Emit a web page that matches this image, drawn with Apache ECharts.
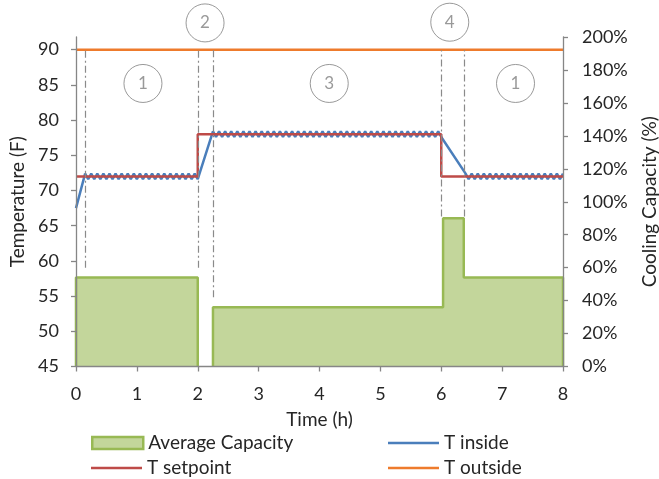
<!DOCTYPE html>
<html>
<head>
<meta charset="utf-8">
<script src="https://cdn.jsdelivr.net/npm/echarts@6/dist/echarts.min.js"></script>
<style>
  html, body { margin: 0; padding: 0; background: #fff; }
  #chart { width: 659px; height: 479px; }
</style>
</head>
<body>
<div id="chart"></div>
<script>
// Hours on the horizontal axis
const timeTicks = [0, 1, 2, 3, 4, 5, 6, 7, 8];
const tempTicks = [45, 50, 55, 60, 65, 70, 75, 80, 85, 90];
const capacityTicks = [0, 20, 40, 60, 80, 100, 120, 140, 160, 180, 200];

// Average cooling capacity (%) as a stepped outline, split where the unit is off
const capacityBlockA = [[0, 0], [0, 54], [2, 54], [2, 0]];
const capacityBlockB = [[2.25, 0], [2.25, 36], [6.03, 36], [6.03, 90], [6.37, 90], [6.37, 54], [8, 54], [8, 0]];

// Thermostat setpoint (F)
const setpoint = [[0, 72], [2, 72], [2, 78], [6, 78], [6, 72], [8, 72]];

// Outside air temperature (F)
const outside = [[0, 90], [8, 90]];

// Inside temperature (F): pull-down, cycling around 72, ramp up, cycling around 78, ramp down, cycling around 72
const inside = [
  [0, 67.5],
  [0.15, 72.4], [0.20, 71.6], [0.25, 72.4], [0.30, 71.6], [0.35, 72.4], [0.40, 71.6],
  [0.45, 72.4], [0.50, 71.6], [0.55, 72.4], [0.60, 71.6], [0.65, 72.4], [0.70, 71.6],
  [0.75, 72.4], [0.80, 71.6], [0.85, 72.4], [0.90, 71.6], [0.95, 72.4], [1.00, 71.6],
  [1.05, 72.4], [1.10, 71.6], [1.15, 72.4], [1.20, 71.6], [1.25, 72.4], [1.30, 71.6],
  [1.35, 72.4], [1.40, 71.6], [1.45, 72.4], [1.50, 71.6], [1.55, 72.4], [1.60, 71.6],
  [1.65, 72.4], [1.70, 71.6], [1.75, 72.4], [1.80, 71.6], [1.85, 72.4], [1.90, 71.6],
  [1.95, 72.4], [2.00, 71.6],
  [2.25, 78.4], [2.30, 77.6], [2.35, 78.4], [2.40, 77.6], [2.45, 78.4], [2.50, 77.6],
  [2.55, 78.4], [2.60, 77.6], [2.65, 78.4], [2.70, 77.6], [2.75, 78.4], [2.80, 77.6],
  [2.85, 78.4], [2.90, 77.6], [2.95, 78.4], [3.00, 77.6], [3.05, 78.4], [3.10, 77.6],
  [3.15, 78.4], [3.20, 77.6], [3.25, 78.4], [3.30, 77.6], [3.35, 78.4], [3.40, 77.6],
  [3.45, 78.4], [3.50, 77.6], [3.55, 78.4], [3.60, 77.6], [3.65, 78.4], [3.70, 77.6],
  [3.75, 78.4], [3.80, 77.6], [3.85, 78.4], [3.90, 77.6], [3.95, 78.4], [4.00, 77.6],
  [4.05, 78.4], [4.10, 77.6], [4.15, 78.4], [4.20, 77.6], [4.25, 78.4], [4.30, 77.6],
  [4.35, 78.4], [4.40, 77.6], [4.45, 78.4], [4.50, 77.6], [4.55, 78.4], [4.60, 77.6],
  [4.65, 78.4], [4.70, 77.6], [4.75, 78.4], [4.80, 77.6], [4.85, 78.4], [4.90, 77.6],
  [4.95, 78.4], [5.00, 77.6], [5.05, 78.4], [5.10, 77.6], [5.15, 78.4], [5.20, 77.6],
  [5.25, 78.4], [5.30, 77.6], [5.35, 78.4], [5.40, 77.6], [5.45, 78.4], [5.50, 77.6],
  [5.55, 78.4], [5.60, 77.6], [5.65, 78.4], [5.70, 77.6], [5.75, 78.4], [5.80, 77.6],
  [5.85, 78.4], [5.90, 77.6], [5.95, 78.4], [6.00, 77.6],
  [6.40, 72.4], [6.45, 71.6], [6.50, 72.4], [6.55, 71.6], [6.60, 72.4], [6.65, 71.6],
  [6.70, 72.4], [6.75, 71.6], [6.80, 72.4], [6.85, 71.6], [6.90, 72.4], [6.95, 71.6],
  [7.00, 72.4], [7.05, 71.6], [7.10, 72.4], [7.15, 71.6], [7.20, 72.4], [7.25, 71.6],
  [7.30, 72.4], [7.35, 71.6], [7.40, 72.4], [7.45, 71.6], [7.50, 72.4], [7.55, 71.6],
  [7.60, 72.4], [7.65, 71.6], [7.70, 72.4], [7.75, 71.6], [7.80, 72.4], [7.85, 71.6],
  [7.90, 72.4], [7.95, 71.6], [8.00, 72.4]
];

// Phase boundaries (h) with the capacity level (%) where each divider stops
const phaseBounds = [0.15, 2, 2.25, 6, 6.38];
const phaseDividerLow = [60, 60, 42, 91, 91];
const phaseDividerTop = 192;

// Numbered phase markers: [time (h), temperature (F), label]
const phaseMarkers = [
  [1.1, 85.2, '1'],
  [2.12, 93.8, '2'],
  [4.16, 85.2, '3'],
  [6.14, 93.9, '4'],
  [7.22, 85.2, '1']
];

const FONT = 'Lato';
const AXIS_GRAY = '#868686';
const TEXT = '#262626';
const GREEN_FILL = '#C3D69B';
const GREEN_EDGE = '#98B954';
const BLUE = '#4A7EBB';
const RED = '#BE4B48';
const ORANGE = '#EE7B2C';

const dividerLines = phaseBounds.map((t, i) => [
  { coord: [t, phaseDividerLow[i]] },
  { coord: [t, phaseDividerTop] }
]);

const capacityStyle = {
  type: 'line',
  name: 'Average Capacity',
  yAxisIndex: 1,
  symbol: 'none',
  lineStyle: { color: GREEN_EDGE, width: 2.5 },
  itemStyle: { color: GREEN_EDGE },
  areaStyle: { color: GREEN_FILL, opacity: 1 },
  z: 1
};

// One legend box per entry so the 2 x 2 arrangement is fixed
function legendEntry(name, left, rowCenter, swatch) {
  const boxH = swatch.height;
  const textH = 19;
  const h = Math.max(boxH, textH);
  return {
    orient: 'vertical',
    left: left,
    top: rowCenter - h / 2,
    padding: 0,
    itemWidth: 51,
    itemHeight: boxH,
    itemGap: 0,
    selectedMode: false,
    textStyle: { fontFamily: FONT, fontSize: 19, color: TEXT, padding: [0, 0, 0, 0] },
    data: [{ name: name, icon: 'rect', itemStyle: swatch.style }]
  };
}

const chart = echarts.init(document.getElementById('chart'), null, { renderer: 'canvas' });

chart.setOption({
  animation: false,
  backgroundColor: '#fff',
  textStyle: { fontFamily: FONT },
  grid: { left: 76, right: 96, top: 37, bottom: 112.5, containLabel: false, outerBoundsMode: 'none' },
  legend: [
    legendEntry('Average Capacity', 91, 443,
      { height: 12, style: { color: GREEN_FILL, borderColor: GREEN_EDGE, borderWidth: 2.5 } }),
    legendEntry('T setpoint', 91, 468,
      { height: 2.5, style: { color: RED, borderWidth: 0 } }),
    legendEntry('T inside', 388, 443,
      { height: 2.5, style: { color: BLUE, borderWidth: 0 } }),
    legendEntry('T outside', 388, 468,
      { height: 2.5, style: { color: ORANGE, borderWidth: 0 } })
  ],
  xAxis: {
    type: 'value',
    min: 0, max: 8, interval: 1,
    name: 'Time (h)',
    nameLocation: 'middle',
    nameGap: 44,
    nameTextStyle: { fontFamily: FONT, fontSize: 19, color: TEXT },
    axisLine: { show: true, lineStyle: { color: AXIS_GRAY, width: 1.3 } },
    axisTick: { show: true, length: 5, lineStyle: { color: AXIS_GRAY, width: 1.3 } },
    axisLabel: { fontFamily: FONT, fontSize: 18, color: TEXT, margin: 19,
      customValues: timeTicks },
    splitLine: { show: false },
    z: 5
  },
  yAxis: [
    {
      type: 'value',
      position: 'left',
      min: 45, max: 91.8,
      name: 'Temperature (F)',
      nameLocation: 'middle',
      nameRotate: 90,
      nameGap: 42,
      nameTextStyle: { fontFamily: FONT, fontSize: 19, color: TEXT },
      axisLine: { show: true, lineStyle: { color: AXIS_GRAY, width: 1.3 } },
      axisTick: { show: true, length: 5, lineStyle: { color: AXIS_GRAY, width: 1.3 },
        customValues: tempTicks },
      axisLabel: { fontFamily: FONT, fontSize: 18, color: TEXT, margin: 17,
        customValues: tempTicks },
      splitLine: { show: false },
      z: 5
    },
    {
      type: 'value',
      position: 'right',
      min: 0, max: 200, interval: 20,
      name: 'Cooling Capacity (%)',
      nameLocation: 'middle',
      nameRotate: 90,
      nameGap: 77,
      nameTextStyle: { fontFamily: FONT, fontSize: 19, color: TEXT },
      axisLine: { show: true, lineStyle: { color: AXIS_GRAY, width: 1.3 } },
      axisTick: { show: true, length: 5, lineStyle: { color: AXIS_GRAY, width: 1.3 } },
      axisLabel: { fontFamily: FONT, fontSize: 18, color: TEXT, margin: 19,
        formatter: '{value}%', customValues: capacityTicks },
      splitLine: { show: false },
      z: 5
    }
  ],
  series: [
    Object.assign({}, capacityStyle, {
      data: capacityBlockA,
      markLine: {
        silent: true,
        symbol: ['none', 'none'],
        label: { show: false },
        lineStyle: { color: '#8a8a8a', width: 1.2, type: [7, 3, 2, 3] },
        data: dividerLines
      }
    }),
    Object.assign({}, capacityStyle, { data: capacityBlockB }),
    {
      type: 'line',
      name: 'T inside',
      yAxisIndex: 0,
      symbol: 'none',
      data: inside,
      lineStyle: { color: BLUE, width: 2.5 },
      itemStyle: { color: BLUE },
      z: 3
    },
    {
      type: 'line',
      name: 'T setpoint',
      yAxisIndex: 0,
      symbol: 'none',
      data: setpoint,
      lineStyle: { color: RED, width: 2.5 },
      itemStyle: { color: RED },
      z: 3
    },
    {
      type: 'line',
      name: 'T outside',
      yAxisIndex: 0,
      symbol: 'none',
      data: outside,
      lineStyle: { color: ORANGE, width: 2.5 },
      itemStyle: { color: ORANGE },
      z: 3
    },
    {
      type: 'scatter',
      name: 'Phase',
      yAxisIndex: 0,
      clip: false,
      symbol: 'circle',
      symbolSize: 38,
      data: phaseMarkers,
      itemStyle: { color: '#fff', borderColor: '#7f7f7f', borderWidth: 1 },
      label: {
        show: true,
        position: 'inside',
        formatter: p => p.value[2],
        fontFamily: FONT,
        fontSize: 17,
        color: '#7f7f7f'
      },
      z: 4
    }
  ]
});
</script>
</body>
</html>
